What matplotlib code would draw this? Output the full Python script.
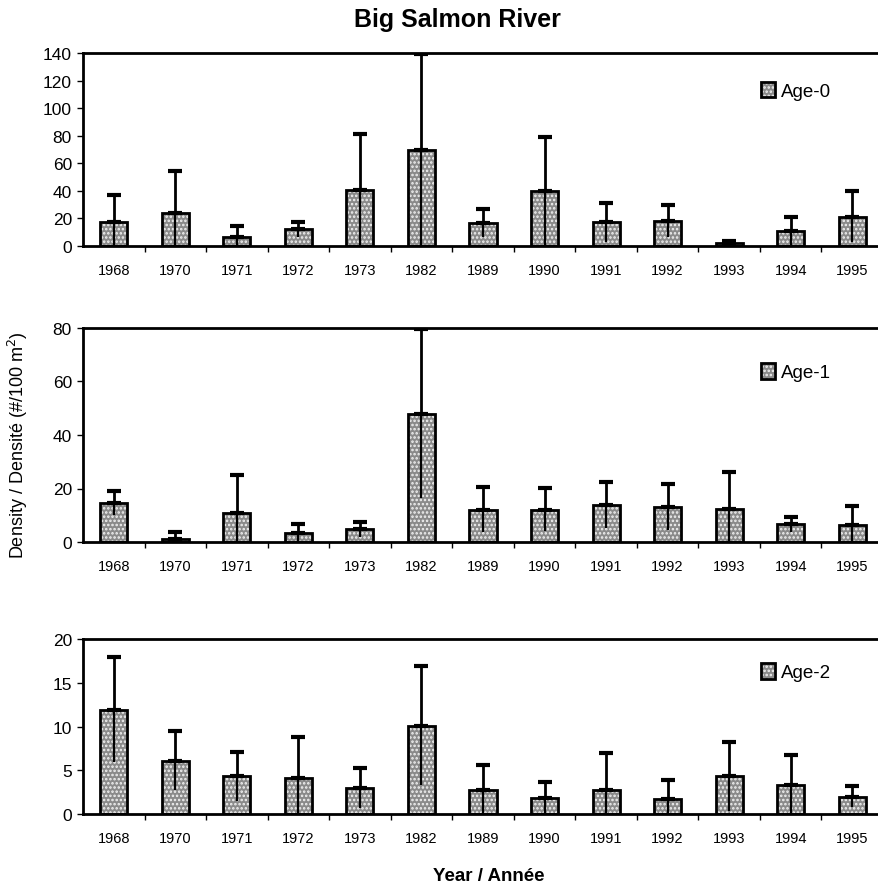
import matplotlib
matplotlib.use("Agg")
import matplotlib.pyplot as plt
import numpy as np

plt.rcParams['font.family'] = ['Liberation Sans', 'DejaVu Sans']
plt.rcParams['hatch.linewidth'] = 1.2

years = ["1968", "1970", "1971", "1972", "1973", "1982", "1989", "1990",
         "1991", "1992", "1993", "1994", "1995"]

age0 = [17.4, 24.0, 6.8, 12.1, 40.7, 69.5, 16.5, 39.7, 17.2, 18.2, 2.5, 10.9, 21.3]
age0_err = [19.4, 30.5, 7.7, 5.3, 40.3, 70.0, 10.1, 39.5, 14.3, 11.6, 1.0, 10.4, 18.7]

age1 = [14.5, 1.1, 11.0, 3.3, 4.7, 48.0, 12.1, 12.1, 14.0, 13.1, 12.3, 6.6, 6.2]
age1_err = [4.5, 2.5, 14.1, 3.3, 2.7, 31.5, 8.5, 8.0, 8.6, 8.5, 14.0, 2.8, 7.1]

age2 = [11.9, 6.1, 4.3, 4.1, 3.0, 10.1, 2.8, 1.8, 2.8, 1.7, 4.3, 3.3, 2.0]
age2_err = [6.0, 3.4, 2.8, 4.65, 2.3, 6.8, 2.8, 1.9, 4.2, 2.15, 3.95, 3.4, 1.2]

panels = [
    ("Age-0", age0, age0_err, 140, 20),
    ("Age-1", age1, age1_err, 80, 20),
    ("Age-2", age2, age2_err, 20, 5),
]

fig = plt.figure(figsize=(8.79, 8.87), dpi=100)

left = 83 / 879
width = 800 / 879
pos_px = [(54, 247), (329, 543), (640, 815)]
leg_y = [0.803, 0.794, 0.811]

x = np.arange(len(years))
for i, (name, vals, errs, ymax, step) in enumerate(panels):
    top, bot = pos_px[i]
    ax = fig.add_axes([left, 1 - bot / 887, width, (bot - top) / 887])
    fill = ax.bar(x, vals, width=0.44, facecolor='#8a8a8a', edgecolor='#f2f2f2',
                  linewidth=0, hatch='....', zorder=2)
    outline = ax.bar(x, vals, width=0.44, facecolor='none', edgecolor='black',
                     linewidth=2, zorder=2.5)
    errs = np.array(errs)
    vals_a = np.array(vals)
    ax.errorbar(x, vals_a, yerr=[np.zeros_like(errs), errs], fmt='none',
                ecolor='black', elinewidth=2, capsize=5, capthick=3, zorder=3)
    ax.errorbar(x, vals_a, yerr=[errs, np.zeros_like(errs)], fmt='none',
                ecolor='black', elinewidth=1.6, capsize=0, zorder=3)
    ax.set_xlim(-0.5, len(years) - 0.5)
    ax.set_ylim(0, ymax)
    ax.set_yticks(np.arange(0, ymax + step / 2, step))
    ax.set_xticks(x)
    ax.set_xticklabels(years, fontsize=10.5)
    ax.set_xticks(np.arange(0.5, len(years) - 1, 1.0), minor=True)
    ax.tick_params(axis='x', which='major', length=0, pad=12)
    ax.tick_params(axis='x', which='minor', length=4, width=1, direction='out')
    ax.tick_params(axis='y', which='major', length=4, width=1, direction='out',
                   labelsize=12.5, pad=4)
    for s in ['left', 'top', 'bottom']:
        ax.spines[s].set_linewidth(2)
    ax.spines['right'].set_visible(False)
    ax.legend(handles=[(fill[0], outline[0])], labels=[name],
              loc='center left', bbox_to_anchor=(0.848, leg_y[i]),
              frameon=False, fontsize=13.5, handlelength=0.75,
              handleheight=0.9, handletextpad=0.3, borderpad=0,
              borderaxespad=0)

fig.text(457 / 879, 1 - 20 / 887, "Big Salmon River", ha='center', va='center',
         fontsize=18, fontweight='bold')
fig.text(489 / 879, 1 - 877 / 887, "Year / Année", ha='center', va='center',
         fontsize=13.5, fontweight='bold')
fig.text(18 / 879, 1 - 445 / 887, "Density / Densité (#/100 m$^2$)", ha='center',
         va='center', rotation=90, fontsize=13)

fig.savefig("out.png", dpi=100)
